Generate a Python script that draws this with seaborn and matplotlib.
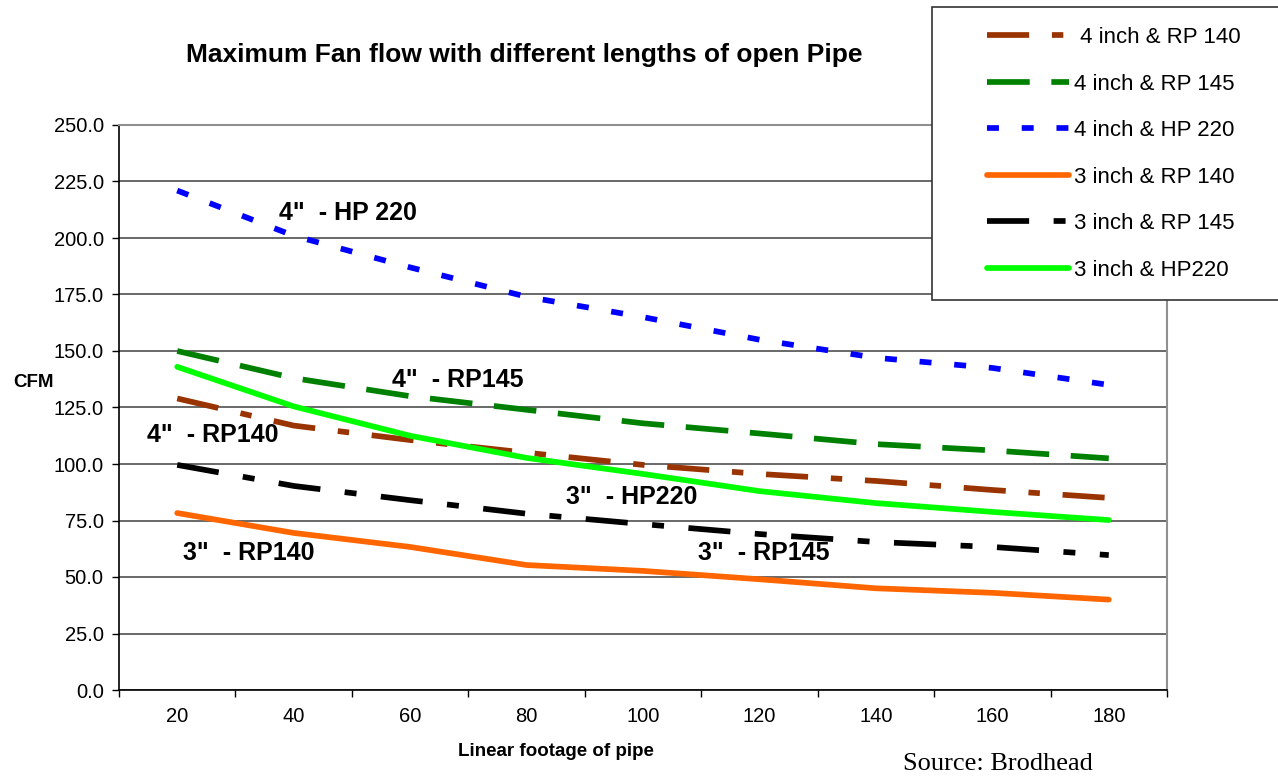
import matplotlib
matplotlib.use("Agg")
import matplotlib.pyplot as plt
from matplotlib.patches import Rectangle
import seaborn as sns
import numpy as np

# pipe length categories (feet)
lengths = [20, 40, 60, 80, 100, 120, 140, 160, 180]

# CFM per fan / pipe combination
cfm_4_rp140 = [129, 117, 110.6, 105, 99.6, 95.6, 92.5, 88.5, 85]
cfm_4_rp145 = [150, 138, 130, 124, 118, 113.5, 108.8, 106, 102.5]
cfm_4_hp220 = [221, 201, 187, 174, 165, 155, 147, 142.5, 135]
cfm_3_rp140 = [78.3, 69.5, 63.3, 55.3, 52.7, 49, 45, 43, 40]
cfm_3_rp145 = [99.6, 90.3, 84, 78, 73.4, 69, 65.5, 63.3, 59.7]
cfm_3_hp220 = [143, 125.5, 112.5, 102.7, 95.6, 88, 82.7, 78.8, 75.2]

labels = [' 4 inch & RP 140', '4 inch & RP 145', '4 inch & HP 220',
          '3 inch & RP 140', '3 inch & RP 145', '3 inch & HP220']

W, H = 1278, 777

sns.set_style("white")
plt.rcParams['font.family'] = ['Liberation Sans', 'DejaVu Sans']
plt.rcParams['text.color'] = 'black'
plt.rcParams['xtick.color'] = 'black'
plt.rcParams['ytick.color'] = 'black'
plt.rcParams['axes.labelcolor'] = 'black'

fig = plt.figure(figsize=(W / 100, H / 100), dpi=100)
ax = fig.add_axes([119 / W, (H - 690) / H, (1167 - 119) / W, (690 - 125) / H])

xpos = np.arange(len(lengths))
series = [
    (cfm_4_rp140, '#993300', (0, (7.4, 4.0, 2.0, 4.0))),
    (cfm_4_rp145, '#008000', (0, (7.5, 3.8))),
    (cfm_4_hp220, '#0000FF', (0, (2.1, 4.0))),
    (cfm_3_rp140, '#FF6600', '-'),
    (cfm_3_rp145, '#000000', (0, (7.4, 4.3, 2.1, 4.3))),
    (cfm_3_hp220, '#00FF00', '-'),
]
for (vals, col, ls), lab in zip(series, labels):
    sns.lineplot(x=xpos, y=vals, ax=ax, color=col, linewidth=4.1,
                 linestyle=ls, label=lab, legend=False, zorder=3)

ax.set_xlim(-0.5, len(lengths) - 0.5)
ax.set_ylim(0, 250)
ax.set_yticks(np.arange(0, 251, 25))
ax.set_yticklabels([f"{v:.1f}" for v in np.arange(0, 251, 25)], fontsize=14.5)
ax.yaxis.grid(True, color='#404040', linewidth=1.1)
ax.set_axisbelow(True)

# category axis: tick marks between categories, labels on categories
ax.set_xticks(np.arange(-0.5, len(lengths), 1.0))
ax.set_xticklabels([])
ax.set_xticks(xpos, minor=True)
ax.set_xticklabels([str(v) for v in lengths], minor=True, fontsize=14.5)
ax.tick_params(axis='x', which='major', direction='out', length=5, width=1,
               color='black', bottom=True)
ax.tick_params(axis='x', which='minor', length=0, pad=12)
ax.tick_params(axis='y', direction='out', length=5, width=1, color='black',
               left=True, pad=6)

for side in ['top', 'right']:
    ax.spines[side].set_color('#909090')
    ax.spines[side].set_linewidth(1.5)
for side in ['left', 'bottom']:
    ax.spines[side].set_color('black')
    ax.spines[side].set_linewidth(1.2)

# inline annotations
def px2data(px, py):
    return (px - 177) / 116.3, (690 - py) * 250 / 565

notes = [
    ('4"  - HP 220', 279, 213),
    ('4"  - RP145', 392, 380),
    ('4"  - RP140', 147, 435),
    ('3"  - HP220', 565, 497),
    ('3"  - RP140', 183, 553),
    ('3"  - RP145', 697, 553),
]
for txt, px, py in notes:
    x, y = px2data(px, py)
    ax.text(x, y, txt, fontsize=18, fontweight='bold', ha='left', va='center',
            zorder=4)

fig.text(524 / W, 1 - 55 / H, 'Maximum Fan flow with different lengths of open Pipe',
         fontsize=19, fontweight='bold', ha='center', va='center')
fig.text(33 / W, 1 - 382 / H, 'CFM', fontsize=13.5, fontweight='bold',
         ha='center', va='center')
fig.text(556 / W, 1 - 752 / H, 'Linear footage of pipe', fontsize=13.5,
         fontweight='bold', ha='center', va='center')
fig.text(998 / W, 1 - 764 / H, 'Source: Brodhead', fontsize=19,
         family='Liberation Serif', ha='center', va='center')

# legend box (runs off the right edge)
box = Rectangle((932 / W, 1 - 300 / H), (1320 - 932) / W, (300 - 7) / H,
                transform=fig.transFigure, facecolor='white', edgecolor='#333333',
                linewidth=1.2, zorder=4, clip_on=False)
fig.patches.append(box)

handles = list(ax.get_lines())
fig.legend(handles=handles, labels=labels, loc='upper left',
           bbox_to_anchor=(987 / W, 1 - 27 / H), bbox_transform=fig.transFigure,
           frameon=False, borderpad=0, borderaxespad=0, handlelength=3.7,
           handletextpad=0.2, labelspacing=1.15, fontsize=16)

fig.savefig('out.png', dpi=100, facecolor='white')
